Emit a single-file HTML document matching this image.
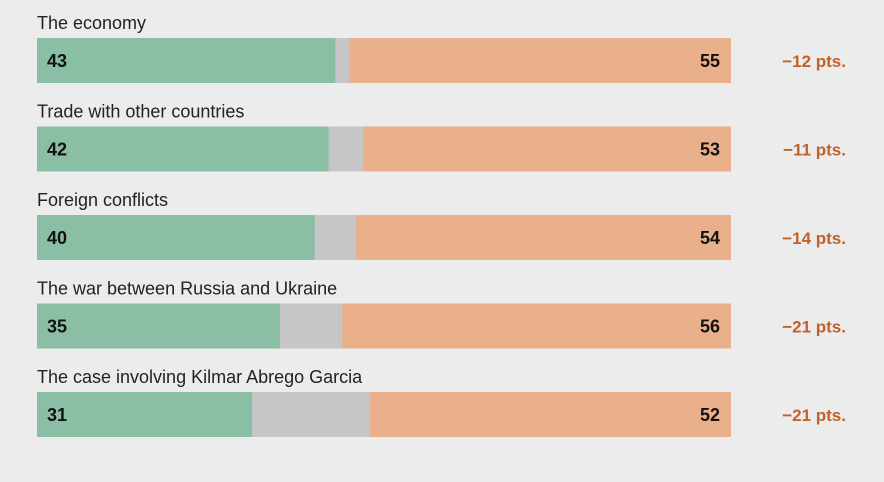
<!DOCTYPE html>
<html><head><meta charset="utf-8"><style>
body{margin:0;width:884px;height:482px;background:#ececec;font-family:"Liberation Sans",sans-serif;overflow:hidden}
svg{display:block}
</style></head><body>
<svg id="chart" width="884" height="482"></svg>
<script>
const categories=["The economy","Trade with other countries","Foreign conflicts","The war between Russia and Ukraine","The case involving Kilmar Abrego Garcia"];
const approve=[43,42,40,35,31];
const disapprove=[55,53,54,56,52];
const netLabels=["\u221212 pts.","\u221211 pts.","\u221214 pts.","\u221221 pts.","\u221221 pts."];
const svg=document.getElementById('chart');
const NS='http://www.w3.org/2000/svg';
const x0=37,x1=731;
const xs=v=>(x1-x0)*v/100;
const rowY=i=>38+i*88.5;
const barH=45;
function mk(tag,attrs,txt){const e=document.createElementNS(NS,tag);for(const k in attrs)e.setAttribute(k,attrs[k]);if(txt!=null)e.textContent=txt;svg.appendChild(e);return e;}
categories.forEach((c,i)=>{
 const y=rowY(i);
 const t=mk('text',{x:37,y:y-9,'font-size':18,fill:'#222'},c);
 
 
 const g=mk('rect',{x:x0,y:y,width:x1-x0,height:barH,fill:'#c6c6c6'});
 
 
 const a=mk('rect',{x:x0,y:y,width:xs(approve[i]),height:barH,fill:'#8abfa6'});
 
 
 const d=mk('rect',{x:x1-xs(disapprove[i]),y:y,width:xs(disapprove[i]),height:barH,fill:'#e9b08b'});
 
 
 const at=mk('text',{x:47,y:y+29,'font-size':18,'font-weight':'bold',fill:'#111'},approve[i]);
 
 
 const dt=mk('text',{x:720,y:y+29,'font-size':18,'font-weight':'bold',fill:'#111','text-anchor':'end'},disapprove[i]);
 
 
 const nt=mk('text',{x:846,y:y+29,'font-size':17,'font-weight':'bold',fill:'#c0622a','text-anchor':'end'},netLabels[i]);
 
 
});
</script>
</body></html>
